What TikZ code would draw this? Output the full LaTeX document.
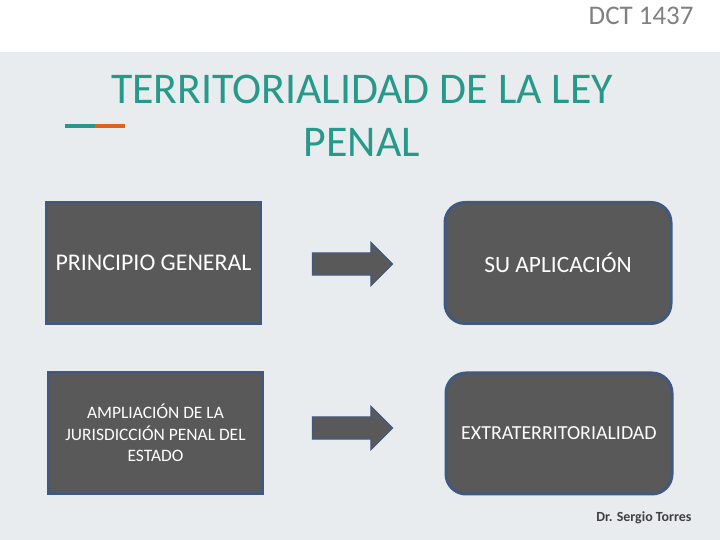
\documentclass[tikz,border=0pt]{standalone}
\usepackage{fontspec}
\setmainfont{Carlito}
\usetikzlibrary{shapes.arrows}
\definecolor{boxgray}{HTML}{595959}
\definecolor{boxline}{HTML}{41597F}
\definecolor{slidebg}{HTML}{E8ECEE}
\definecolor{titleteal}{HTML}{27998A}
\definecolor{barorange}{HTML}{E0611C}
\begin{document}
\begin{tikzpicture}
        [x=1bp,y=1bp,
         box/.style={draw=boxline,fill=boxgray,line width=3bp,text=white,minimum width=214bp,minimum height=121bp,align=center,inner sep=0pt},
         roundbox/.style={box,rounded corners=20bp,minimum width=226bp},
         blockarrow/.style={single arrow,fill=boxgray,draw=boxline,line width=1.2bp,inner xsep=0pt,inner ysep=10.5bp,minimum height=80bp,single arrow head extend=10.5bp}]
        \useasboundingbox (0,0) rectangle (720,540);
        \fill[white] (0,0) rectangle (720,540);
        \fill[slidebg] (0,0) rectangle (720,488);

        \node[anchor=east,text=gray,font=\fontsize{27}{30}\selectfont] (code) at (697,524) {DCT 1437};
        \node[text=titleteal,align=center,font=\fontsize{44}{53}\selectfont] (title) at (362,424) {TERRITORIALIDAD DE LA LEY\\PENAL};
        \fill[titleteal] (65,412) rectangle (95,416);
        \fill[barorange] (95,412) rectangle (125,416);

        \node[box,font=\fontsize{24}{28}\selectfont] (gen) at (153.5,277) {PRINCIPIO GENERAL};
        \node[box,font=\fontsize{17.5}{21.5}\selectfont] (amp) at (155.5,107) {AMPLIACIÓN DE LA\\JURISDICCIÓN PENAL DEL\\ESTADO};
        \node[roundbox,font=\fontsize{23.5}{27}\selectfont] (apl) at (558,277) {SU APLICACIÓN};
        \node[roundbox,font=\fontsize{20}{24}\selectfont] (ext) at (559,106.5) {EXTRATERRITORIALIDAD};

        \node[blockarrow] (a1) at (347,276) {};
        \node[blockarrow] (a2) at (347,112) {};

        \node[anchor=east,text=black!75,font=\bfseries\fontsize{14}{16}\selectfont] (author) at (695,22) {Dr. Sergio Torres};
    \end{tikzpicture}
\end{document}
